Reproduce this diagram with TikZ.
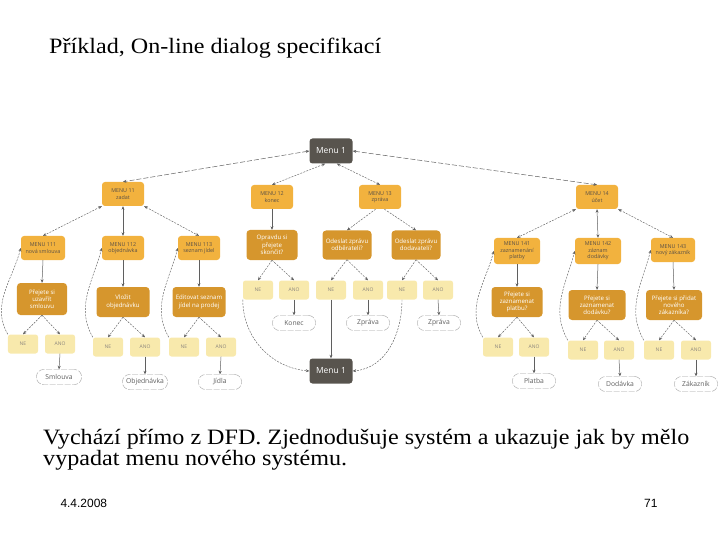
\documentclass[tikz,border=0pt]{standalone}
\usepackage{fontspec}
\setmainfont{Liberation Serif}
\newfontfamily\widefont[FakeStretch=1.1]{Liberation Serif}
\newfontfamily\boxfont{Open Sans}
\newfontfamily\footfont{Liberation Sans}
\usetikzlibrary{arrows.meta}
\definecolor{menuC}{RGB}{242,178,62}
\definecolor{questC}{RGB}{214,150,45}
\definecolor{ynC}{RGB}{248,233,172}
\definecolor{darkC}{RGB}{88,84,78}
\definecolor{lineC}{RGB}{95,95,95}
\definecolor{txtC}{RGB}{90,80,70}
\begin{document}
\begin{tikzpicture}[x=1bp,y=1bp,
  menubox/.style={fill=menuC, rounded corners=3bp, minimum width=42bp, minimum height=24bp,
    inner sep=1bp, align=center, text=txtC, font=\boxfont\fontsize{5.4}{6.4}\selectfont},
  questbox/.style={fill=questC, rounded corners=3.5bp, minimum width=51bp, minimum height=30bp,
    inner sep=1bp, align=center, text=white, font=\boxfont\fontsize{6.1}{7.3}\selectfont},
  ynbox/.style={fill=ynC, rounded corners=2.5bp, minimum width=30bp, minimum height=19bp,
    inner sep=1bp, text=txtC!70, font=\boxfont\fontsize{5}{6}\selectfont},
  leafbox/.style={draw=lineC!60, line width=0.4bp, dash pattern=on 6bp off 1.5bp, fill=white, rounded corners=7bp, minimum width=43bp,
    minimum height=15bp, inner sep=1bp, text=lineC, font=\boxfont\fontsize{6.8}{8}\selectfont},
  darkbox/.style={fill=darkC, rounded corners=3bp, minimum width=43bp, minimum height=25bp,
    inner sep=1bp, text=white, font=\boxfont\fontsize{8.5}{10}\selectfont},
  tip/.style={-{Stealth[length=3.5bp,width=3bp]}},
  bitip/.style={{Stealth[length=3.5bp,width=3bp]}-{Stealth[length=3.5bp,width=3bp]}},
  conn/.style={draw=lineC, line width=0.5bp},
  dconn/.style={draw=lineC, line width=0.45bp, dash pattern=on 2bp off 1.2bp},
  lconn/.style={draw=lineC, line width=0.5bp, dash pattern=on 5bp off 2bp}
]
\useasboundingbox (0,0) rectangle (720,-540);

% title and texts
\node[anchor=west, inner sep=0pt, font=\widefont\fontsize{22}{24}\selectfont] (title) at (49,-48) {Příklad, On-line dialog specifikací};
\node[anchor=north west, inner sep=0pt, align=left, font=\widefont\fontsize{22}{21}\selectfont] (body) at (43,-429)
  {Vychází přímo z DFD. Zjednodušuje systém a ukazuje jak by mělo\\vypadat menu nového systému.};
\node[anchor=west, font=\footfont\fontsize{12}{14}\selectfont] (date) at (57,-503) {4.4.2008};
\node[anchor=east, font=\footfont\fontsize{12}{14}\selectfont] (pnum) at (661,-503) {71};

% level 1
\node[darkbox] (m1) at (331,-151) {Menu 1};
% level 2
\node[menubox] (m11) at (123,-194) {MENU 11\\zadat};
\node[menubox] (m12) at (272,-197) {MENU 12\\konec};
\node[menubox] (m13) at (380,-197) {MENU 13\\zpráva};
\node[menubox] (m14) at (597,-197) {MENU 14\\účet};
% level 3
\node[menubox, minimum width=44bp] (m111) at (43,-248) {MENU 111\\nová smlouva};
\node[menubox] (m112) at (123,-248) {MENU 112\\objednávka};
\node[menubox] (m113) at (199,-248) {MENU 113\\seznam jídel};
\node[menubox, minimum width=46bp, minimum height=26bp] (m141) at (517,-251) {MENU 141\\zaznamenání\\platby};
\node[menubox, minimum width=46bp, minimum height=26bp] (m142) at (598,-251) {MENU 142\\záznam\\dodávky};
\node[menubox, minimum width=44bp] (m143) at (673,-250) {MENU 143\\nový zákazník};
% questions
\node[questbox] (q12) at (272,-245) {Opravdu si\\přejete\\skončit?};
\node[questbox, minimum width=49bp, minimum height=29bp] (q13a) at (347,-245) {Odeslat zprávu\\odběrateli?};
\node[questbox, minimum width=49bp, minimum height=29bp] (q13b) at (416,-245) {Odeslat zprávu\\dodavateli?};
\node[questbox, minimum width=50bp, minimum height=32bp] (q111) at (42,-299) {Přejete si\\uzavřít\\smlouvu};
\node[questbox, minimum width=53bp] (q112) at (123,-302) {Vložit\\objednávku};
\node[questbox, minimum width=53bp] (q113) at (199,-302) {Editovat seznam\\jídel na prodej};
\node[questbox] (q141) at (517,-302) {Přejete si\\zaznamenat\\platbu?};
\node[questbox, minimum width=57bp] (q142) at (597,-305) {Přejete si\\zaznamenat\\dodávku?};
\node[questbox, minimum width=56bp] (q143) at (674,-305) {Přejete si přidat\\nového\\zákazníka?};
% yes/no
\node[ynbox] (n12) at (258,-290) {NE};
\node[ynbox] (a12) at (294,-290) {ANO};
\node[ynbox] (n13a) at (331,-290) {NE};
\node[ynbox] (a13a) at (368,-290) {ANO};
\node[ynbox] (n13b) at (402,-290) {NE};
\node[ynbox] (a13b) at (438,-290) {ANO};
\node[ynbox] (n111) at (23,-344) {NE};
\node[ynbox] (a111) at (60,-344) {ANO};
\node[ynbox] (n112) at (108,-347) {NE};
\node[ynbox] (a112) at (145,-347) {ANO};
\node[ynbox] (n113) at (184,-347) {NE};
\node[ynbox] (a113) at (221,-347) {ANO};
\node[ynbox] (n141) at (498,-347) {NE};
\node[ynbox] (a141) at (534,-347) {ANO};
\node[ynbox] (n142) at (583,-350) {NE};
\node[ynbox] (a142) at (619,-350) {ANO};
\node[ynbox] (n143) at (659,-350) {NE};
\node[ynbox] (a143) at (696,-350) {ANO};
% leaves
\node[leafbox] (l12) at (294,-323) {Konec};
\node[leafbox] (l13a) at (368,-323) {Zpráva};
\node[leafbox] (l13b) at (439,-323) {Zpráva};
\node[leafbox, minimum width=45bp] (l111) at (59,-377) {Smlouva};
\node[leafbox, minimum width=45bp] (l112) at (145,-382) {Objednávka};
\node[leafbox] (l113) at (220,-382) {Jídla};
\node[leafbox] (l141) at (534,-381) {Platba};
\node[leafbox] (l142) at (620,-384) {Dodávka};
\node[leafbox] (l143) at (696,-384) {Zákazník};
% bottom menu
\node[darkbox] (bm1) at (331,-371) {Menu 1};

% level1 - level2
\draw[lconn, bitip] (m1.west) -- (m11.north);
\draw[lconn, bitip] (m1.east) -- (m14.north);
\draw[dconn, bitip] (m1.245) -- (m12.north);
\draw[dconn, bitip] (m1.295) -- (m13.north);
% level2 - level3
\draw[dconn, bitip] (m11.south west) -- (m111.north);
\draw[conn, bitip] (m11.south) -- (m112.north);
\draw[dconn, bitip] (m11.south east) -- (m113.north);
\draw[dconn, bitip] (m14.south west) -- (m141.north);
\draw[conn, bitip] (m14.south) -- (m142.north);
\draw[dconn, bitip] (m14.south east) -- (m143.north);
% to questions
\draw[conn, tip] (m12.south) -- (q12.north);
\draw[dconn, tip] (m13.250) -- (q13a.north);
\draw[dconn, tip] (m13.290) -- (q13b.north);
\foreach \g in {111,112,113,141,142,143} {
  \draw[conn, tip] (m\g.south) -- (q\g.north);
}
% questions to yes/no
\foreach \g in {12,13a,13b,111,112,113,141,142,143} {
  \draw[dconn, tip] (q\g.south) -- (n\g.north);
  \draw[dconn, tip] (q\g.south) -- (a\g.north);
  \draw[conn, tip] (a\g.south) -- (l\g.north);
}
% NE back to menu
\foreach \g in {111,112,113,141,142,143} {
  \draw[dconn, tip] (n\g.north west) to[out=120, in=255] (m\g.west);
}
\draw[dconn, tip] (n12.south west) to[out=270, in=175] (bm1.west);
\draw[conn, tip] (n13a.south) -- (bm1.north);
\draw[dconn, tip] (n13b.south) to[out=270, in=5] (bm1.east);
\end{tikzpicture}
\end{document}
